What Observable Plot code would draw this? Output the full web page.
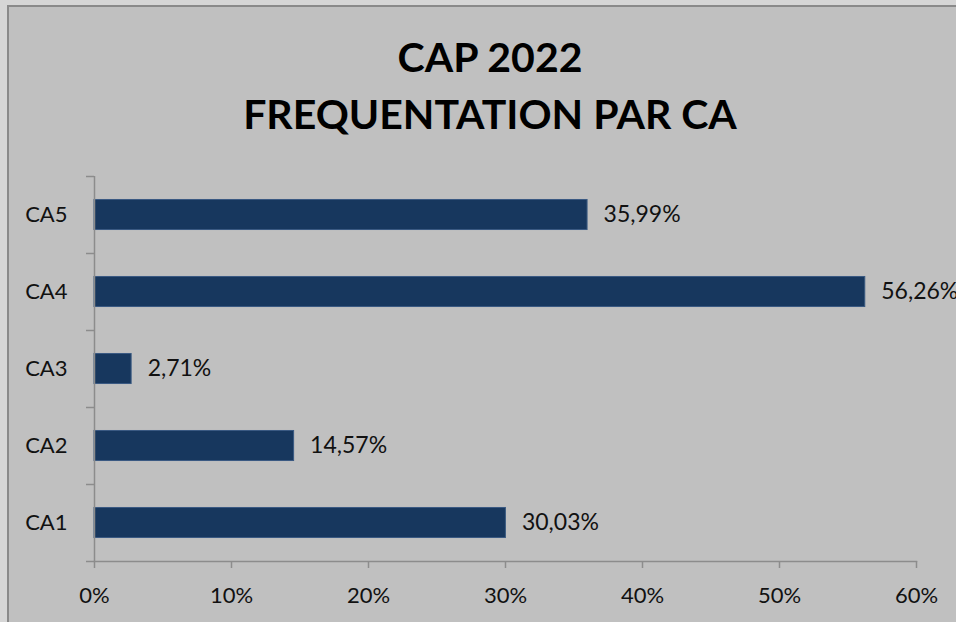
<!DOCTYPE html>
<html>
<head>
<meta charset="utf-8">
<script src="https://cdn.jsdelivr.net/npm/d3@7"></script>
<script src="https://cdn.jsdelivr.net/npm/@observablehq/plot@0.6"></script>
<style>
  html, body { margin: 0; padding: 0; width: 956px; height: 622px; overflow: hidden; background: #d6d6d6; }
  body { position: relative; font-family: Lato, "Open Sans", sans-serif; }
  #frame { position: absolute; left: 7px; top: 5px; width: 1000px; height: 700px; background: #c0c0c0;
           border-left: 2px solid #8a8a8a; border-top: 2px solid #8a8a8a; }
  #title { position: absolute; left: 0; top: 28px; width: 980px; text-align: center; font-weight: 700;
           font-size: 41px; line-height: 57px; color: #000; }
  #chart { position: absolute; left: 0; top: 160px; }
  #chart svg { overflow: visible; }
</style>
</head>
<body>
<div id="frame"></div>
<div id="title">CAP 2022<br>FREQUENTATION PAR CA</div>
<div id="chart"></div>
<script>
const categories = ["CA1", "CA2", "CA3", "CA4", "CA5"];
const values = [0.3003, 0.1457, 0.0271, 0.5626, 0.3599];
const xTicks = [0, 0.1, 0.2, 0.3, 0.4, 0.5, 0.6];

const data = categories.map((c, i) => ({cat: c, v: values[i]}));
const yDomain = categories.slice().reverse();

const W = 956, H = 462, mt = 16, mb = 61, ml = 94, mr = 40;
const pIn = 0.61, pOut = 0.305;
const step = (H - mt - mb) / (categories.length - pIn + 2 * pOut);
const axisColor = "#8c8c8c";
const fmtLabel = v => (v * 100).toFixed(2).replace(".", ",") + "%";

const chart = Plot.plot({
  width: W, height: H,
  marginTop: mt, marginBottom: mb, marginLeft: ml, marginRight: mr,
  style: {background: "transparent", fontFamily: "Lato, 'Open Sans', sans-serif", fontSize: "22px", color: "#111", overflow: "visible"},
  x: {domain: [0, 0.6], axis: null, label: null},
  y: {domain: yDomain, paddingInner: pIn, paddingOuter: pOut, round: false, axis: null, label: null},
  marks: [
    Plot.barX(data, {x: "v", y: "cat", fill: "#17375e", stroke: "#3a5a82", strokeWidth: 1}),
    Plot.ruleX([0], {stroke: axisColor, strokeWidth: 1.5}),
    Plot.frame({anchor: "bottom", stroke: axisColor, strokeWidth: 1.5}),
    Plot.axisY({tickSize: 0, tickPadding: 27, fontSize: 22, fill: "#111", label: null}),
    Plot.axisY({tickSize: 8, tickFormat: () => "", stroke: axisColor, strokeWidth: 1.5, dy: -step / 2, label: null}),
    Plot.axisY({ticks: ["CA1"], tickSize: 8, tickFormat: () => "", stroke: axisColor, strokeWidth: 1.5, dy: step / 2, label: null}),
    Plot.axisX({ticks: xTicks, tickFormat: d3.format(".0%"), tickSize: 7, tickPadding: 19, stroke: axisColor, strokeWidth: 1.5, fontSize: 22, fill: "#111", label: null}),
    Plot.text(data, {x: "v", y: "cat", text: d => fmtLabel(d.v), textAnchor: "start", dx: 16, fontSize: 23, fill: "#111"})
  ]
});
document.getElementById("chart").appendChild(chart);
</script>
</body>
</html>
